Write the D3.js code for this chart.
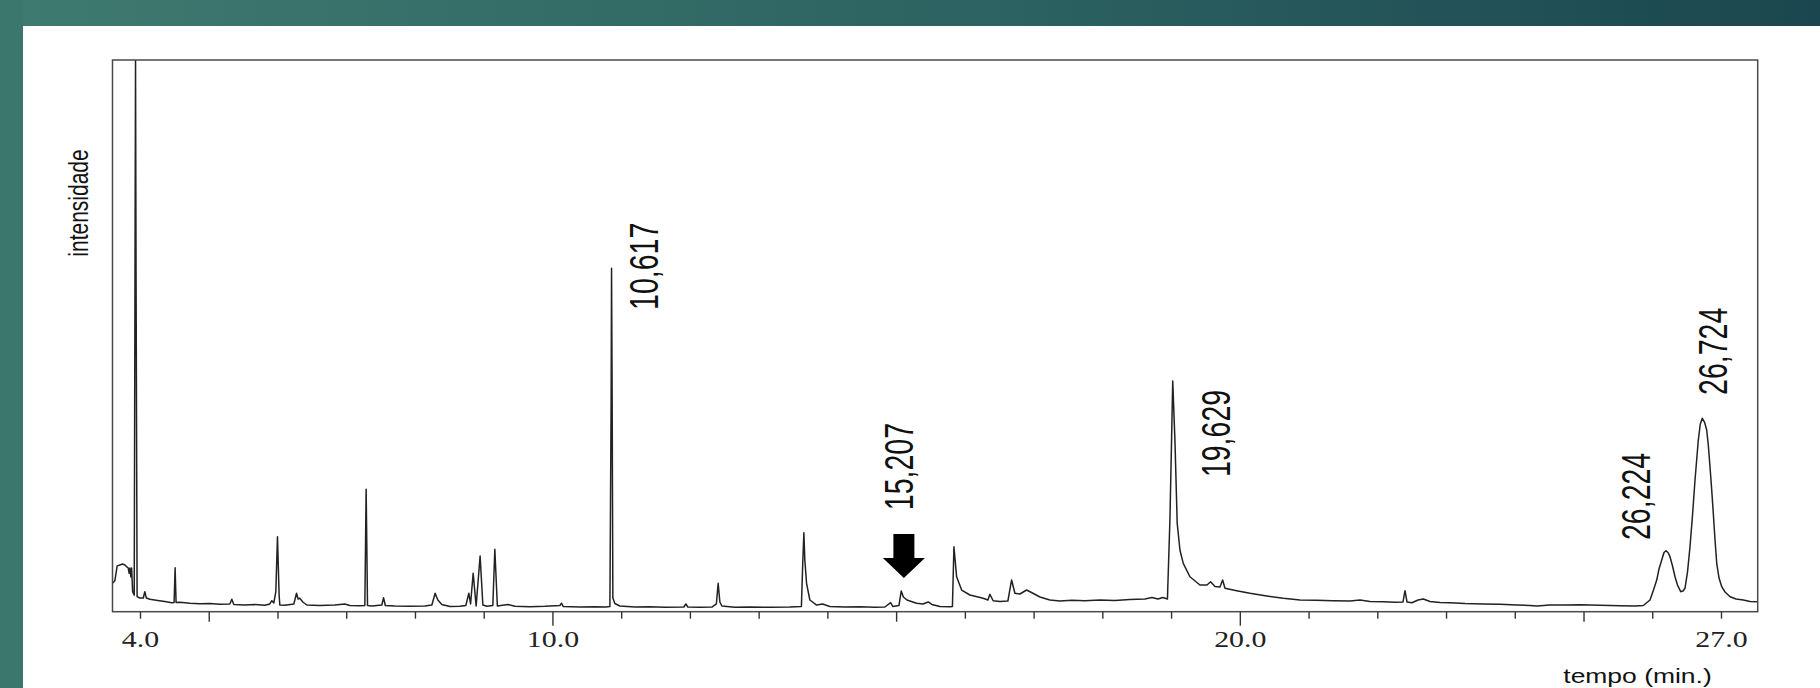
<html>
<head>
<meta charset="utf-8">
<title>Cromatograma</title>
<script src="https://d3js.org/d3.v7.min.js"></script>
<style>
body { margin: 0; background: #fff; }
svg { display: block; }
</style>
</head>
<body>
<svg id="svg" width="1820" height="688"></svg>
<script>
// chromatogram trace: [tempo (min), intensidade (% of full scale)]
const trace = [
  [3.600, 5.15], [3.634, 5.60], [3.668, 8.30], [3.708, 8.46], [3.745, 8.64], [3.781, 8.46],
  [3.805, 8.16], [3.829, 7.92], [3.843, 6.96], [3.853, 7.92], [3.868, 6.29], [3.878, 7.92],
  [3.893, 3.63], [3.916, 3.00], [3.927, 60.0], [3.935, 100.0], [3.943, 60.0], [3.958, 2.72],
  [3.997, 2.48], [4.048, 2.48], [4.070, 3.63], [4.092, 2.48], [4.143, 2.25], [4.259, 2.03],
  [4.361, 1.85], [4.463, 1.63], [4.496, 1.67], [4.511, 7.98], [4.525, 1.67], [4.579, 1.70],
  [4.725, 1.54], [4.870, 1.43], [5.016, 1.50], [5.161, 1.36], [5.307, 1.40], [5.336, 2.25],
  [5.365, 1.31], [5.525, 1.21], [5.670, 1.29], [5.816, 1.16], [5.889, 1.40], [5.918, 1.99],
  [5.947, 1.58], [5.976, 3.63], [6.000, 13.6], [6.024, 3.03], [6.034, 1.21], [6.107, 1.16],
  [6.238, 1.40], [6.277, 3.34], [6.300, 2.30], [6.325, 2.43], [6.369, 1.76], [6.427, 1.21],
  [6.616, 1.12], [6.834, 1.21], [6.980, 1.40], [7.052, 1.12], [7.198, 1.09], [7.271, 1.12],
  [7.290, 22.19], [7.310, 1.12], [7.373, 1.03], [7.518, 1.21], [7.543, 2.54], [7.569, 1.12],
  [7.707, 1.03], [7.926, 0.98], [8.144, 1.03], [8.246, 1.21], [8.294, 3.34], [8.333, 2.12],
  [8.391, 1.31], [8.508, 0.94], [8.653, 0.98], [8.740, 1.12], [8.784, 3.34], [8.809, 1.40],
  [8.847, 6.96], [8.890, 1.03], [8.948, 10.10], [8.988, 1.21], [9.046, 0.98], [9.133, 1.12],
  [9.162, 11.31], [9.199, 1.03], [9.351, 1.31], [9.453, 0.98], [9.671, 0.91], [9.890, 0.98],
  [10.108, 1.12], [10.133, 1.52], [10.159, 0.94], [10.399, 0.85], [10.618, 0.91], [10.778, 0.85],
  [10.836, 0.94], [10.854, 38.4], [10.860, 62.24], [10.869, 38.4], [10.879, 2.48], [10.908, 1.49],
  [10.981, 1.03], [11.199, 0.85], [11.417, 0.91], [11.636, 0.82], [11.912, 0.85], [11.941, 1.40],
  [11.970, 0.85], [12.145, 0.80], [12.320, 0.85], [12.385, 1.40], [12.411, 5.15], [12.436, 1.76],
  [12.465, 1.03], [12.654, 0.80], [12.872, 0.85], [13.163, 0.80], [13.454, 0.85], [13.622, 0.94],
  [13.643, 9.37], [13.658, 14.32], [13.672, 9.37], [13.697, 5.15], [13.745, 2.12], [13.843, 1.21],
  [13.930, 1.40], [14.036, 0.94], [14.255, 0.85], [14.473, 0.91], [14.691, 0.80], [14.837, 0.85],
  [14.920, 1.63], [14.953, 0.94], [15.041, 1.12], [15.074, 3.75], [15.106, 2.66], [15.157, 2.12],
  [15.298, 1.52], [15.390, 1.40], [15.467, 1.76], [15.520, 1.31], [15.637, 0.94], [15.782, 0.91],
  [15.819, 0.94], [15.841, 11.78], [15.880, 6.34], [15.953, 3.93], [16.073, 3.03], [16.267, 2.43],
  [16.335, 2.12], [16.364, 3.15], [16.412, 1.99], [16.510, 1.85], [16.626, 1.94], [16.680, 5.75],
  [16.728, 3.34], [16.801, 3.21], [16.898, 3.93], [16.990, 3.34], [17.092, 2.66], [17.237, 2.12],
  [17.383, 1.94], [17.557, 2.07], [17.746, 1.99], [17.965, 2.12], [18.183, 2.03], [18.401, 2.21],
  [18.619, 2.30], [18.721, 2.57], [18.809, 2.30], [18.881, 2.57], [18.947, 2.30], [18.983, 16.6],
  [19.007, 31.1], [19.024, 41.8], [19.056, 31.12], [19.089, 16.02], [19.129, 11.18], [19.177, 8.77],
  [19.274, 6.34], [19.420, 4.84], [19.522, 4.84], [19.575, 5.44], [19.638, 4.57], [19.711, 4.48],
  [19.750, 5.75], [19.784, 4.24], [19.954, 3.81], [20.148, 3.34], [20.391, 2.85], [20.632, 2.43],
  [20.875, 2.12], [21.108, 2.07], [21.359, 1.99], [21.604, 1.94], [21.748, 2.12], [21.894, 1.85],
  [22.087, 1.81], [22.258, 1.70], [22.374, 1.76], [22.403, 3.81], [22.432, 1.76], [22.505, 1.63],
  [22.593, 2.12], [22.669, 2.30], [22.767, 1.85], [22.912, 1.67], [23.057, 1.63], [23.276, 1.49],
  [23.542, 1.40], [23.785, 1.34], [24.028, 1.21], [24.221, 1.12], [24.319, 1.03], [24.512, 1.21],
  [24.730, 1.21], [24.949, 1.25], [25.240, 1.16], [25.531, 1.07], [25.749, 1.03], [25.870, 1.12],
  [25.967, 2.12], [26.018, 3.93], [26.065, 5.73], [26.098, 7.74], [26.138, 9.37], [26.171, 10.73],
  [26.200, 11.06], [26.229, 10.73], [26.258, 9.97], [26.295, 8.28], [26.331, 6.34], [26.367, 4.84],
  [26.414, 3.63], [26.447, 3.75], [26.476, 4.24], [26.513, 7.20], [26.549, 11.78], [26.586, 17.53],
  [26.622, 23.87], [26.670, 31.12], [26.699, 34.02], [26.728, 35.05], [26.760, 34.38], [26.792, 32.93],
  [26.815, 30.22], [26.840, 26.28], [26.865, 22.06], [26.888, 17.84], [26.913, 13.0], [26.938, 8.77],
  [26.971, 6.11], [27.011, 4.53], [27.059, 3.57], [27.132, 2.72], [27.219, 2.30], [27.325, 2.12],
  [27.423, 1.85], [27.534, 1.81]
];

// axis ticks (every minute) and the ones that carry a label
const tickValues = d3.range(4, 28);
const labelledTicks = [4, 10, 20, 27];

// retention-time labels and where they sit, in data units [tempo, intensidade]
const peakNames = ["10,617", "15,207", "19,629", "26,224", "26,724"];
const peakLabelAt = [[11.534, 54.7], [15.244, 18.4], [19.856, 24.4], [25.967, 13.0], [27.087, 39.3]];

// the black arrow pointing at the small peak
const arrowAt = [15.113, 6.11];

//svg setup
var svg = d3.select('svg'),
    margin = { top: 60, right: 62.3, bottom: 76.3, left: 112.5 },
    width = +svg.attr('width') - margin.left - margin.right,
    height = +svg.attr('height') - margin.top - margin.bottom;

// slide background: white with teal strips on top and left
var defs = svg.append("defs");
var grad = defs.append("linearGradient").attr("id", "band");
grad.append("stop").attr("offset", "0%").attr("stop-color", "#3f7a70");
grad.append("stop").attr("offset", "55%").attr("stop-color", "#2c6261");
grad.append("stop").attr("offset", "100%").attr("stop-color", "#1b464f");

svg.append("rect").attr("width", 1820).attr("height", 688).attr("fill", "#fff");
svg.append("rect").attr("width", 1820).attr("height", 26).attr("fill", "url(#band)");
svg.append("rect").attr("width", 23).attr("height", 688).attr("fill", "#3c776d");

defs.append("clipPath").attr("id", "plotclip")
  .append("rect").attr("width", width).attr("height", height);

var g = svg.append('g').attr('transform', 'translate(' + margin.left + ',' + margin.top + ')');

//scales
var x = d3.scaleLinear().domain([3.6, 27.534]).range([0, width]);
var y = d3.scaleLinear().domain([0, 100]).range([height, 0]);

//the trace
var line = d3.line()
  .x(d => x(d[0]))
  .y(d => y(d[1]));

g.append("path")
  .datum(trace)
  .attr("clip-path", "url(#plotclip)")
  .attr("fill", "none")
  .attr("stroke", "#222")
  .attr("stroke-width", 1.5)
  .attr("stroke-linejoin", "round")
  .attr("d", line);

//frame
g.append("rect")
  .attr("width", width)
  .attr("height", height)
  .attr("fill", "none")
  .attr("stroke", "#4a4a4a")
  .attr("stroke-width", 1.5);

//bottom axis: short ticks, longer at 5 and 10
var axis = g.append("g")
  .attr("transform", "translate(0," + height + ")")
  .call(d3.axisBottom(x)
    .tickValues(tickValues)
    .tickFormat(d => labelledTicks.includes(d) ? d.toFixed(1) : ""));

axis.select(".domain").remove();
axis.selectAll(".tick line")
  .attr("stroke", "#333")
  .attr("stroke-width", 1.4)
  .attr("y2", d => d % 10 === 0 ? 14 : (d % 5 === 0 ? 10 : 7));
axis.selectAll(".tick text")
  .attr("y", null)
  .attr("dy", null)
  .attr("transform", "translate(0,35.3) scale(1.3,1)")
  .attr("fill", "#222")
  .style("font-family", "'Liberation Serif', 'Times New Roman', serif")
  .style("font-size", "23px");

//axis titles
g.append("text")
  .attr("text-anchor", "middle")
  .attr("transform", "translate(" + (width - 120.2) + "," + (height + 71) + ") scale(1.26,1)")
  .style("font-family", "'Liberation Sans', Arial, sans-serif")
  .style("font-size", "21px")
  .attr("fill", "#111")
  .text("tempo (min.)");

g.append("text")
  .attr("text-anchor", "middle")
  .attr("transform", "translate(-24.5,143) scale(1.28,1) rotate(-90)")
  .style("font-family", "'Liberation Sans', Arial, sans-serif")
  .style("font-size", "21px")
  .attr("fill", "#111")
  .text("intensidade");

//peak labels, rotated
peakNames.forEach((name, i) => {
  var p = peakLabelAt[i];
  g.append("text")
    .attr("transform", "translate(" + x(p[0]) + "," + y(p[1]) + ") scale(1.42,1) rotate(-90)")
    .style("font-family", "'Liberation Sans', Arial, sans-serif")
    .style("font-size", "28.5px")
    .attr("fill", "#111")
    .text(name);
});

//arrow
g.append("path")
  .attr("transform", "translate(" + x(arrowAt[0]) + "," + y(arrowAt[1]) + ")")
  .attr("d", "M-10.5,-44 h21 v24 h10.5 L0,0 L-21,-20 h10.5 Z")
  .attr("fill", "#000");
</script>
</body>
</html>
